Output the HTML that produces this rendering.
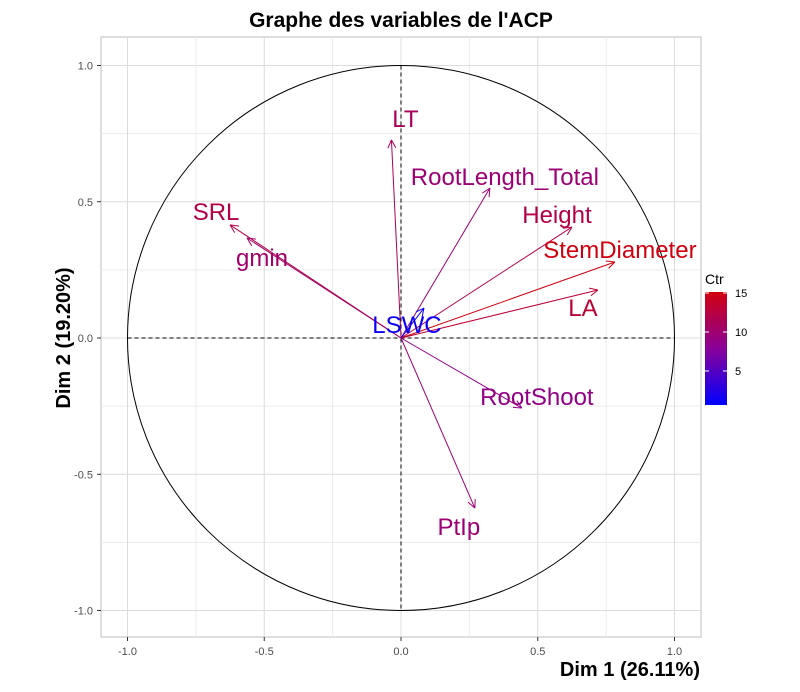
<!DOCTYPE html>
<html><head><meta charset="utf-8"><style>
body{margin:0;background:#fff;}
svg text{font-family:"Liberation Sans",sans-serif;}
</style></head><body>
<svg id="chart" width="800" height="687" xmlns="http://www.w3.org/2000/svg">
<rect width="800" height="687" fill="#fff"/>
<text x="401" y="27" text-anchor="middle" font-size="21" font-weight="bold">Graphe des variables de l'ACP</text>
<g id="grid"></g>
<g id="marks"></g>
<text x="700" y="676" text-anchor="end" font-size="20" font-weight="bold">Dim 1 (26.11%)</text>
<text transform="translate(70,338) rotate(-90)" text-anchor="middle" font-size="20" font-weight="bold">Dim 2 (19.20%)</text>
<g id="legend">
<defs><linearGradient id="cg" x1="0" y1="1" x2="0" y2="0"><stop offset="0" stop-color="#0000FF"/><stop offset="0.5" stop-color="#8A0099"/><stop offset="1" stop-color="#D0000F"/></linearGradient></defs>
<text x="705" y="284" font-size="14">Ctr</text>
<rect x="705" y="292" width="22" height="113" fill="url(#cg)"/>
</g>
</svg>
<script>
const varNames=["LT","RootLength_Total","Height","StemDiameter","LA","SRL","gmin","LSWC","RootShoot","PtIp"];
const dim1=[-0.035,0.325,0.625,0.782,0.72,-0.625,-0.563,0.084,0.442,0.27];
const dim2=[0.727,0.55,0.407,0.279,0.176,0.415,0.367,0.11,-0.257,-0.624];
const ctr=[11,9.5,12,15,13,12,10,0.6,8.5,9.5];
const labelDx=[14,15,-15,5,-15,-14,15,-17,15,-16];
const labelDy=[-22,-12,-13,-13,17,-14,19,16,-12,18];
const ticks=[-1,-0.5,0,0.5,1];
const tickLabels=["-1.0","-0.5","0.0","0.5","1.0"];
const legendTicks=[5,10,15];
const NS="http://www.w3.org/2000/svg";
const X=v=>401+v*273.5, Y=v=>338-v*272.5;
const L=v=>410-v*(117/15);
function mk(tag,attrs,parent){const e=document.createElementNS(NS,tag);for(const k in attrs)e.setAttribute(k,attrs[k]);parent.appendChild(e);return e;}
function col(c){const t=Math.max(0,Math.min(1,c/15));let a,b,u;
 const s=[[0,0,255],[138,0,153],[208,0,15]];
 if(t<0.5){a=s[0];b=s[1];u=t/0.5}else{a=s[1];b=s[2];u=(t-0.5)/0.5}
 return "rgb("+a.map((x,i)=>Math.round(x+(b[i]-x)*u)).join(",")+")";}
const grid=document.getElementById('grid');
mk('rect',{x:101,y:37,width:600,height:600,fill:'#fff',stroke:'#bdbdbd','stroke-width':1},grid);
const minor=[-0.75,-0.25,0.25,0.75];
minor.forEach(v=>{mk('line',{x1:X(v),x2:X(v),y1:37,y2:637,stroke:'#ececec'},grid);mk('line',{x1:101,x2:701,y1:Y(v),y2:Y(v),stroke:'#ececec'},grid);});
ticks.forEach((v,i)=>{
 let g=mk('line',{x1:X(v),x2:X(v),y1:37,y2:637,stroke:'#dcdcdc'},grid);
 
 
 let h=mk('line',{x1:101,x2:701,y1:Y(v),y2:Y(v),stroke:'#dcdcdc'},grid);
 
 
 mk('line',{x1:X(v),x2:X(v),y1:637,y2:641,stroke:'#333'},grid);
 mk('line',{x1:97,x2:101,y1:Y(v),y2:Y(v),stroke:'#333'},grid);
 let tx=mk('text',{x:X(v),y:655,'text-anchor':'middle','font-size':11,fill:'#4d4d4d'},grid);tx.textContent=tickLabels[i];
 
 
 let ty=mk('text',{x:93,y:Y(v)+4,'text-anchor':'end','font-size':11,fill:'#4d4d4d'},grid);ty.textContent=tickLabels[i];
 
 
});
const m=document.getElementById('marks');
const circ=mk('ellipse',{cx:X(0),cy:Y(0),rx:273.5,ry:272.5,fill:'none',stroke:'#000','stroke-width':1},m);


mk('line',{x1:X(-1),x2:X(1),y1:Y(0),y2:Y(0),stroke:'#000','stroke-dasharray':'4,3'},m);
mk('line',{x1:X(0),x2:X(0),y1:Y(1),y2:Y(-1),stroke:'#000','stroke-dasharray':'4,3'},m);
varNames.forEach((n,i)=>{
 const c=col(ctr[i]);const x2=X(dim1[i]),y2=Y(dim2[i]);
 const a=mk('line',{x1:X(0),y1:Y(0),x2:x2,y2:y2,stroke:c,'stroke-width':1},m);
 
 
 const ang=Math.atan2(y2-Y(0),x2-X(0));
 [0.45,-0.45].forEach(d=>{mk('line',{x1:x2,y1:y2,x2:x2-9*Math.cos(ang+d),y2:y2-9*Math.sin(ang+d),stroke:c,'stroke-width':1},m);});
 const t=mk('text',{x:x2+labelDx[i],y:y2+labelDy[i]+9,'text-anchor':'middle','font-size':24,fill:c},m);
 t.textContent=n;
 
 
});
const lg=document.getElementById('legend');
legendTicks.forEach(v=>{
 mk('line',{x1:705,x2:709,y1:L(v),y2:L(v),stroke:'#fff'},lg);
 mk('line',{x1:723,x2:727,y1:L(v),y2:L(v),stroke:'#fff'},lg);
 const t=mk('text',{x:735,y:L(v)+4,'font-size':11,fill:'#000'},lg);t.textContent=v;
 
 
});
</script>
</body></html>
